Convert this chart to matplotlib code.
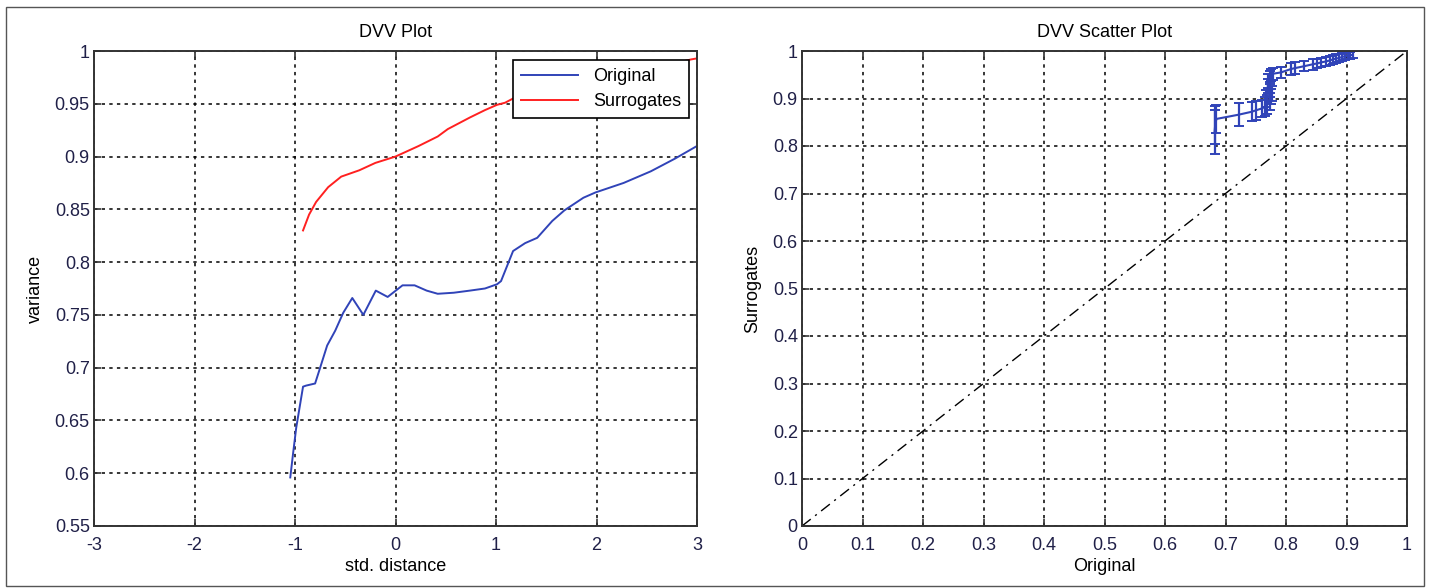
import numpy as np
import matplotlib
matplotlib.use("Agg")
import matplotlib.pyplot as plt
from matplotlib.patches import Rectangle

plt.rcParams['font.family'] = ['Liberation Sans', 'DejaVu Sans']
plt.rcParams['font.size'] = 13

# DVV plot: std. distance vs variance
orig_d = [-1.047, -1.02, -0.988, -0.92, -0.89, -0.80, -0.753, -0.68, -0.60, -0.52,
          -0.43, -0.32, -0.196, -0.078, 0.07, 0.19, 0.31, 0.42, 0.58, 0.74, 0.89,
          1.01, 1.05, 1.17, 1.29, 1.41, 1.56, 1.68, 1.87, 1.99, 2.27, 2.54, 2.78, 3.0]
orig_v = [0.596, 0.618, 0.643, 0.682, 0.683, 0.685, 0.699, 0.721, 0.735, 0.752,
          0.766, 0.750, 0.773, 0.767, 0.778, 0.778, 0.773, 0.770, 0.771, 0.773, 0.775,
          0.779, 0.782, 0.8105, 0.818, 0.823, 0.839, 0.849, 0.861, 0.866, 0.875, 0.886, 0.898, 0.910]
surr_d = [-0.92, -0.86, -0.79, -0.67, -0.54, -0.36, -0.20, 0.0, 0.23, 0.42, 0.52,
          0.74, 0.89, 1.01, 1.09, 1.21, 1.52, 2.0, 2.5, 2.94, 3.0]
surr_v = [0.830, 0.845, 0.857, 0.871, 0.881, 0.887, 0.894, 0.900, 0.910, 0.919, 0.926,
          0.937, 0.944, 0.949, 0.951, 0.957, 0.961, 0.972, 0.982, 0.992, 0.993]

# DVV scatter: original vs surrogates with error bars
sc_x = [0.682, 0.683, 0.685, 0.722, 0.743, 0.750, 0.760,
        0.766, 0.768, 0.773, 0.767, 0.776, 0.777, 0.773, 0.770, 0.771, 0.773, 0.775, 0.778,
        0.792, 0.808, 0.815, 0.830, 0.844, 0.852, 0.858, 0.866, 0.872, 0.877, 0.882,
        0.887, 0.892, 0.897, 0.902, 0.906, 0.910]
sc_y = [0.830, 0.845, 0.857, 0.866, 0.872, 0.875, 0.879,
        0.883, 0.887, 0.894, 0.900, 0.905, 0.910, 0.919, 0.926, 0.937, 0.944, 0.949, 0.952,
        0.955, 0.962, 0.964, 0.968, 0.972, 0.974, 0.976, 0.978, 0.980, 0.982, 0.984,
        0.985, 0.987, 0.989, 0.990, 0.991, 0.992]
sc_err = [0.046, 0.040, 0.030, 0.024, 0.020, 0.020, 0.018,
          0.020, 0.020, 0.018, 0.018, 0.016, 0.016, 0.015, 0.015, 0.014, 0.014, 0.013, 0.013,
          0.012, 0.012, 0.012, 0.011, 0.011, 0.010, 0.010, 0.010, 0.009, 0.009, 0.009,
          0.008, 0.008, 0.008, 0.007, 0.007, 0.007]

left_xticks = [-3, -2, -1, 0, 1, 2, 3]
left_xlabels = ['-3', '-2', '-1', '0', '1', '2', '3']
left_yticks = [0.55, 0.6, 0.65, 0.7, 0.75, 0.8, 0.85, 0.9, 0.95, 1.0]
left_ylabels = ['0.55', '0.6', '0.65', '0.7', '0.75', '0.8', '0.85', '0.9', '0.95', '1']
right_ticks = [0, 0.1, 0.2, 0.3, 0.4, 0.5, 0.6, 0.7, 0.8, 0.9, 1.0]
right_labels = ['0', '0.1', '0.2', '0.3', '0.4', '0.5', '0.6', '0.7', '0.8', '0.9', '1']

blue = '#3043b8'
red = '#ff2020'
tick_col = '#202048'

fig = plt.figure(figsize=(14.3, 5.88), dpi=100)
fig.patches.append(Rectangle((6/1430, 2/588), 1418/1430, 579/588, transform=fig.transFigure,
                             fill=False, edgecolor='#555555', linewidth=1.0))

def style(ax):
    ax.grid(True, color='black', linestyle=(0, (2.2, 2.8)), linewidth=1.1)
    ax.tick_params(direction='in', top=True, right=True, length=5, width=1.2,
                   colors='#333333', labelcolor=tick_col, labelsize=13, pad=3)
    ax.tick_params(axis='x', pad=8)
    for s in ax.spines.values():
        s.set_linewidth(1.4)
        s.set_color('#333333')

ax1 = fig.add_axes([94/1430, 62/588, 603/1430, 475/588])
ax1.plot(orig_d, orig_v, color=blue, lw=1.4, label='Original')
ax1.plot(surr_d, surr_v, color=red, lw=1.4, label='Surrogates')
ax1.set_xlim(-3, 3)
ax1.set_ylim(0.55, 1)
ax1.set_xticks(left_xticks)
ax1.set_xticklabels(left_xlabels)
ax1.set_yticks(left_yticks)
ax1.set_yticklabels(left_ylabels)
style(ax1)
ax1.set_title('DVV Plot', fontsize=13, pad=10)
ax1.set_xlabel('std. distance', fontsize=13, labelpad=3)
ax1.set_ylabel('variance', fontsize=13, labelpad=8)
leg = ax1.legend(loc='upper right', bbox_to_anchor=(0.987, 0.981), borderaxespad=0,
                 fancybox=False, framealpha=1, edgecolor='black', handlelength=3.2,
                 fontsize=13, borderpad=0.45, labelspacing=0.45)
leg.get_frame().set_linewidth(1.2)

ax2 = fig.add_axes([802/1430, 62/588, 605/1430, 475/588])
ax2.plot([0, 1], [0, 1], color='black', lw=1.0, linestyle=(0, (8, 4, 1.5, 4)))
ax2.errorbar(sc_x, sc_y, yerr=sc_err, color=blue, lw=1.5, elinewidth=1.6,
             capsize=3.5, capthick=1.4)
ax2.set_xlim(0, 1)
ax2.set_ylim(0, 1)
ax2.set_xticks(right_ticks)
ax2.set_yticks(right_ticks)
ax2.set_xticklabels(right_labels)
ax2.set_yticklabels(right_labels)
style(ax2)
ax2.set_title('DVV Scatter Plot', fontsize=13, pad=10)
ax2.set_xlabel('Original', fontsize=13, labelpad=3)
ax2.set_ylabel('Surrogates', fontsize=13, labelpad=8)

fig.savefig('out.png', dpi=100)
